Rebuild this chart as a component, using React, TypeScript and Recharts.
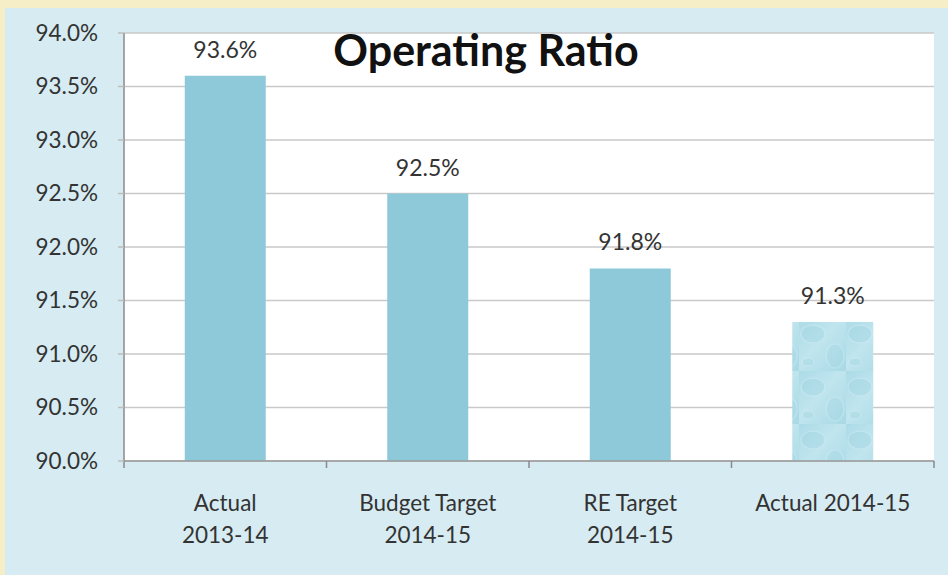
import { BarChart, Bar, XAxis, YAxis, CartesianGrid, LabelList, Cell } from "recharts";

const categories = ["Actual\n2013-14", "Budget Target\n2014-15", "RE Target\n2014-15", "Actual 2014-15"];
const ratios = [93.6, 92.5, 91.8, 91.3];
const yTicks = [90, 90.5, 91, 91.5, 92, 92.5, 93, 93.5, 94];
const edgeTicks = [0, 1, 2, 3, 4];
const title = "Operating Ratio";

const rows = categories.map((c, i) => ({ name: c, value: ratios[i], edge: i }));

const FONT = "Lato, 'Open Sans', sans-serif";
const pct = (v: number) => `${v.toFixed(1)}%`;

function CatTick({ x, y, payload }: { x?: number; y?: number; payload?: { value: string } }) {
  const lines = String(payload?.value ?? "").split("\n");
  return (
    <text x={x} y={y} textAnchor="middle" fill="#333" fontSize={22.5} fontFamily={FONT}>
      {lines.map((l, i) => (
        <tspan key={i} x={x} dy={i === 0 ? 34 : 32}>{l}</tspan>
      ))}
    </text>
  );
}

function NoLabel() {
  return <g />;
}

export default function App() {
  return (
    <div style={{ position: "relative", width: 948, height: 575, background: "#f6eec6", overflow: "hidden" }}>
      <style>{"body{margin:0}"}</style>
      <div style={{ position: "absolute", left: 5, top: 8, right: 0, bottom: 0, background: "#d6ebf2" }} />
      <div style={{ position: "absolute", left: 0, top: 0 }}>
        <BarChart width={948} height={575} data={rows} margin={{ top: 33, right: 14, bottom: 14, left: 0 }} barCategoryGap="30%">
          <defs>
            <linearGradient id="waterBase" x1="0" y1="0" x2="1" y2="1">
              <stop offset="0%" stopColor="#abdbe7" />
              <stop offset="45%" stopColor="#c0e5ee" />
              <stop offset="100%" stopColor="#a8d9e5" />
            </linearGradient>
            <pattern id="water" patternUnits="userSpaceOnUse" width="47" height="53">
              <rect width="47" height="53" fill="url(#waterBase)" />
              <ellipse cx="14" cy="16" rx="12" ry="9" fill="#a2d4e1" opacity="0.45" stroke="#d3edf4" strokeWidth="1.2" />
              <ellipse cx="36" cy="38" rx="9" ry="12" fill="#a5d6e2" opacity="0.4" stroke="#d5eef5" strokeWidth="1.2" />
              <ellipse cx="9" cy="44" rx="6" ry="4" fill="#9ed2df" opacity="0.35" stroke="#dbf0f6" strokeWidth="1" />
            </pattern>
          </defs>
          <CartesianGrid yAxisId="y" xAxisId="b" vertical={false} stroke="#c9c9c9" strokeWidth={1.5} fill="#ffffff" />
          <XAxis xAxisId="b" dataKey="name" height={92} interval={0} tickLine={false}
            axisLine={false} tick={<CatTick />} />
          <XAxis xAxisId="a" dataKey="edge" type="number" domain={[0, 4]} ticks={edgeTicks} height={8}
            allowDataOverflow axisLine={{ stroke: "#9a9a9a", strokeWidth: 1.5 }} tick={NoLabel}
            tickLine={{ stroke: "#8a8a8a", strokeWidth: 1.5 }} tickSize={7} />
          <YAxis yAxisId="y" width={124} domain={[90, 94]} ticks={yTicks} tickFormatter={pct}
            axisLine={{ stroke: "#8a8a8a", strokeWidth: 1.5 }} tickLine={{ stroke: "#bdbdbd", strokeWidth: 1.5 }}
            tickSize={6} tickMargin={20}
            tick={{ fill: "#333", fontSize: 22.5, fontFamily: FONT }} allowDataOverflow />
          <Bar xAxisId="b" yAxisId="y" dataKey="value" isAnimationActive={false} baseValue={90}>
            {rows.map((_, i) => (
              <Cell key={i} fill={i === rows.length - 1 ? "url(#water)" : "#8ec9da"} />
            ))}
            <LabelList dataKey="value" position="top" offset={18} formatter={(v: number) => pct(v)}
              fill="#333" fontSize={23} fontFamily={FONT} />
          </Bar>
        </BarChart>
      </div>
      <div style={{ position: "absolute", left: 0, width: 972, top: 25, textAlign: "center", fontFamily: FONT, fontWeight: 700, fontSize: 43, color: "#111", lineHeight: "50px" }}>
        {title}
      </div>
    </div>
  );
}
